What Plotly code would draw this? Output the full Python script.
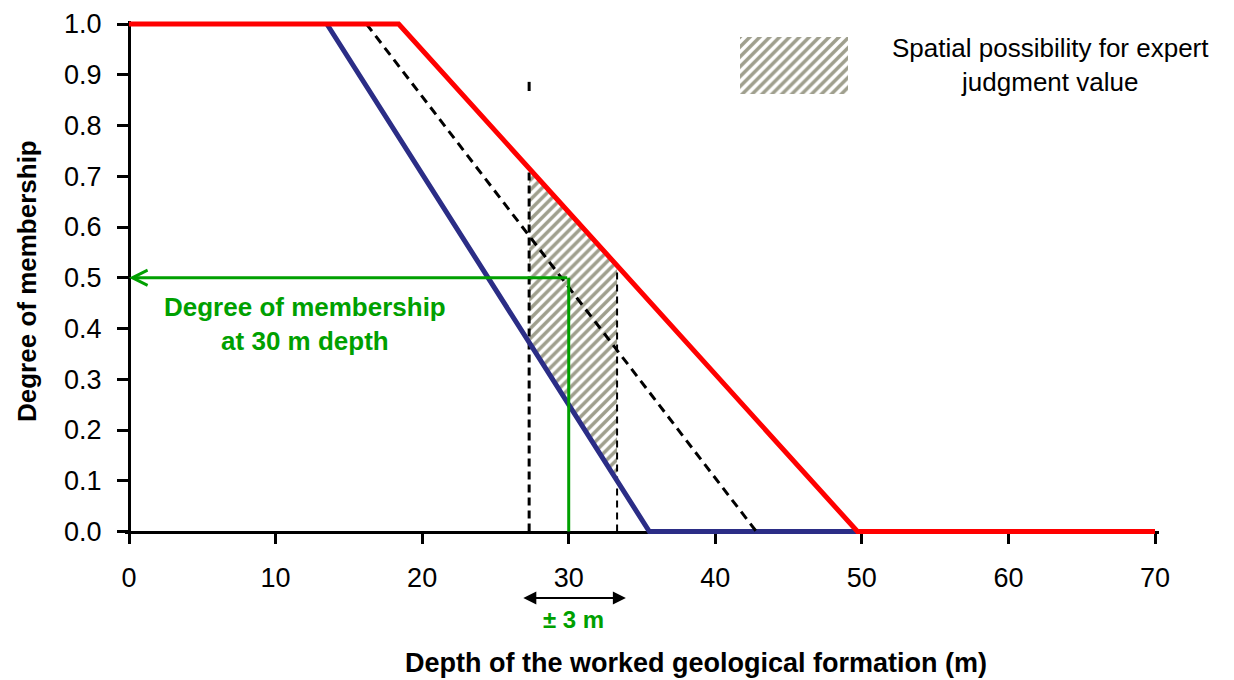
import numpy as np
import plotly.graph_objects as go

# ---------------- data ----------------
red_x = [0.0, 18.4, 49.7, 70.0]
red_y = [1.0, 1.0, 0.0, 0.0]
blue_x = [13.5, 35.5, 49.7]
blue_y = [1.0, 0.0, 0.0]
mid_x = [16.2, 42.8]
mid_y = [1.0, 0.0]
hatch_bounds = [27.3, 33.3]          # depth window of the expert judgment
left_top_dash = [0.868, 0.886]       # isolated dash above the left bound
green_depth = 30.0
green_degree = 0.5
span_arrow = [26.8, 33.9]            # "± 3 m" double arrow extent
x_ticks = [0, 10, 20, 30, 40, 50, 60, 70]
y_ticks = [0.0, 0.1, 0.2, 0.3, 0.4, 0.5, 0.6, 0.7, 0.8, 0.9, 1.0]

# ---------------- layout geometry ----------------
OFF_X, OFF_Y = 8, 8                 # page offset of the figure in the browser
WIDTH, HEIGHT = 1234 - OFF_X, 680 - OFF_Y
L_ABS, R, T_ABS, B = 125, 75, 21, 146
L, T = L_ABS - OFF_X, T_ABS - OFF_Y
PW, PH = WIDTH - L - R, HEIGHT - T - B
X0_PX, X70_PX = 129.0, 1155.0       # absolute pixel of x=0 and x=70
Y0_PX, Y1_PX = 531.5, 24.0          # absolute pixel of y=0 and y=1
kx = (X70_PX - X0_PX) / 70.0
ky = (Y0_PX - Y1_PX) / 1.0
x_range = [-(X0_PX - L_ABS) / kx, 70.0 + (L_ABS + PW - X70_PX) / kx]
y_range = [-(T_ABS + PH - Y0_PX) / ky, 1.0 + (Y1_PX - T_ABS) / ky]


def PX(px):
    return (px - L_ABS) / PW


def PY(py):
    return (T_ABS + PH - py) / PH


FONT = "Liberation Sans, Arial, sans-serif"
RED = "#ff0000"
BLUE = "#2b2d86"
GREEN = "#00a000"
HATCH = "#3f3f1c"

red_at = lambda x: float(np.interp(x, red_x, red_y))
blue_at = lambda x: float(np.interp(x, blue_x, blue_y))

fig = go.Figure()

# hatched area between the blue and red lines inside the depth window
hx0, hx1 = hatch_bounds
fig.add_trace(go.Scatter(
    x=[hx0, hx1, hx1, hx0, hx0],
    y=[blue_at(hx0), blue_at(hx1), red_at(hx1), red_at(hx0), blue_at(hx0)],
    mode="lines", line=dict(width=0), fill="toself", fillcolor="white",
    fillpattern=dict(shape="/", fgcolor=HATCH, bgcolor="white", size=7, solidity=0.5),
    hoverinfo="skip", showlegend=False))

# vertical dashed bounds
fig.add_trace(go.Scatter(x=[hx0, hx0], y=[0, red_at(hx0)], mode="lines",
                         line=dict(color="black", width=3, dash="8px,5px"),
                         hoverinfo="skip", showlegend=False))
fig.add_trace(go.Scatter(x=[hx0, hx0], y=left_top_dash, mode="lines",
                         line=dict(color="black", width=3),
                         hoverinfo="skip", showlegend=False))
fig.add_trace(go.Scatter(x=[hx1, hx1], y=[0, red_at(hx1)], mode="lines",
                         line=dict(color="black", width=2, dash="7px,5px"),
                         hoverinfo="skip", showlegend=False))

# membership functions
fig.add_trace(go.Scatter(x=blue_x, y=blue_y, mode="lines",
                         line=dict(color=BLUE, width=5), showlegend=False))
fig.add_trace(go.Scatter(x=mid_x, y=mid_y, mode="lines",
                         line=dict(color="black", width=3, dash="9px,6px"), showlegend=False))
fig.add_trace(go.Scatter(x=red_x, y=red_y, mode="lines",
                         line=dict(color=RED, width=5), showlegend=False))

# green vertical at 30 m
fig.add_trace(go.Scatter(x=[green_depth, green_depth], y=[0, green_degree], mode="lines",
                         line=dict(color=GREEN, width=3), showlegend=False))

# legend swatch (hatched box) on an overlay axis
fig.add_trace(go.Bar(x=[0], y=[1], width=1, xaxis="x2", yaxis="y2",
                     marker=dict(color="white", line=dict(width=0),
                                 pattern=dict(shape="/", fgcolor=HATCH, bgcolor="white",
                                              size=7, solidity=0.5)),
                     hoverinfo="skip", showlegend=False))


def label(px, py, text, size, color="black", **kw):
    d = dict(x=PX(px), y=PY(py), xref="paper", yref="paper", text=text,
             showarrow=False, xanchor="center", yanchor="middle", align="center",
             font=dict(family=FONT, size=size, color=color))
    d.update(kw)
    return d


annotations = [
    # green horizontal arrow pointing to the y axis
    dict(x=0, y=green_degree, ax=green_depth, ay=green_degree,
         xref="x", yref="y", axref="x", ayref="y", text="",
         showarrow=True, arrowhead=5, arrowsize=1, arrowwidth=3, arrowcolor=GREEN, standoff=0),
    label(305, 324, "<b>Degree of membership<br>at 30 m depth</b>", 26, GREEN),
    # ± 3 m double arrow
    dict(x=span_arrow[1], y=PY(598), ax=span_arrow[0], ay=0,
         xref="x", yref="paper", axref="x", ayref="pixel", text="",
         showarrow=True, arrowhead=2, startarrowhead=2, arrowside="end+start",
         arrowsize=1.3, startarrowsize=1.3, arrowwidth=2, arrowcolor="black",
         standoff=0, startstandoff=0),
    label(573, 620, "<b>± 3 m</b>", 24, GREEN),
    # axis titles
    label(696, 663, "<b>Depth of the worked geological formation (m)</b>", 27),
    label(27, 281, "<b>Degree of membership</b>", 26, textangle=-90),
    # legend text
    label(1050, 65, "Spatial possibility for expert<br>judgment value", 26),
]

fig.update_layout(
    width=WIDTH, height=HEIGHT,
    margin=dict(l=L, r=R, t=T, b=B, pad=0, autoexpand=False),
    paper_bgcolor="white", plot_bgcolor="white",
    showlegend=False,
    xaxis=dict(range=x_range, domain=[0, 1], anchor="free",
               position=(0 - y_range[0]) / (y_range[1] - y_range[0]),
               tickmode="array", tickvals=x_ticks, ticktext=[str(v) for v in x_ticks],
               ticks="outside", ticklen=10, tickwidth=3, tickcolor="black",
               showline=True, linecolor="black", linewidth=3,
               showgrid=False, zeroline=False, layer="below traces", automargin=False,
               tickfont=dict(family=FONT, size=27, color="black"),
               ticklabelstandoff=11, ticklabeloverflow="allow", fixedrange=True),
    yaxis=dict(range=y_range, domain=[0, 1], anchor="free",
               position=(0 - x_range[0]) / (x_range[1] - x_range[0]),
               tickmode="array", tickvals=y_ticks, ticktext=[f"{v:.1f}" for v in y_ticks],
               ticks="outside", ticklen=11, tickwidth=3, tickcolor="black",
               showline=True, linecolor="black", linewidth=3,
               showgrid=False, zeroline=False, layer="below traces", automargin=False,
               tickfont=dict(family=FONT, size=27, color="black"),
               ticklabelstandoff=10, ticklabeloverflow="allow", fixedrange=True),
    xaxis2=dict(domain=[PX(740), PX(848)], range=[-0.5, 0.5], anchor="y2",
                visible=False, fixedrange=True, automargin=False),
    yaxis2=dict(domain=[PY(94), PY(37)], range=[0, 1], anchor="x2",
                visible=False, fixedrange=True, automargin=False),
    annotations=annotations,
)

fig.write_html("out.html")
